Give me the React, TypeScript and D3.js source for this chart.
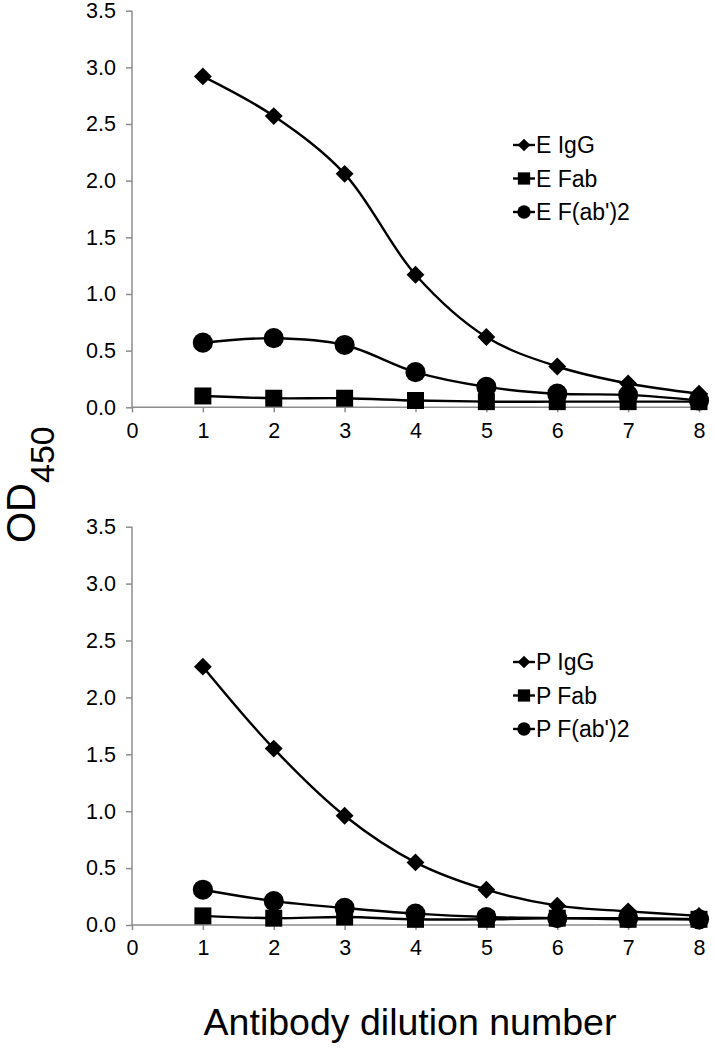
import React, { useEffect, useRef } from 'react';
import * as d3 from 'd3';

// dilution numbers on the x axis
const dilutions = [1, 2, 3, 4, 5, 6, 7, 8];
const xTicks = [0, 1, 2, 3, 4, 5, 6, 7, 8];
const yTicks = [0, 0.5, 1.0, 1.5, 2.0, 2.5, 3.0, 3.5];

// top panel (E)
const eIgG = [2.92, 2.57, 2.06, 1.17, 0.62, 0.36, 0.21, 0.12];
const eFab = [0.10, 0.08, 0.08, 0.06, 0.05, 0.05, 0.05, 0.05];
const eF2 = [0.57, 0.61, 0.55, 0.31, 0.18, 0.12, 0.11, 0.06];

// bottom panel (P)
const pIgG = [2.27, 1.55, 0.96, 0.55, 0.31, 0.17, 0.12, 0.08];
const pFab = [0.08, 0.06, 0.07, 0.05, 0.05, 0.06, 0.05, 0.05];
const pF2 = [0.31, 0.21, 0.15, 0.10, 0.07, 0.06, 0.06, 0.05];

const seriesTop = [
  { name: 'E IgG', values: eIgG, marker: 'diamond' },
  { name: 'E Fab', values: eFab, marker: 'square' },
  { name: "E F(ab')2", values: eF2, marker: 'circle' },
];
const seriesBottom = [
  { name: 'P IgG', values: pIgG, marker: 'diamond' },
  { name: 'P Fab', values: pFab, marker: 'square' },
  { name: "P F(ab')2", values: pF2, marker: 'circle' },
];

const FONT = "'Liberation Sans', Arial, sans-serif";
const AXIS_COLOR = '#8c8c8c';

type Series = { name: string; values: number[]; marker: string };

const markerPath = (kind: string, big: boolean) => {
  if (kind === 'diamond') {
    return d3.symbol(d3.symbolSquare, big ? 160 : 80)()!;
  }
  if (kind === 'square') {
    return d3.symbol(d3.symbolSquare, big ? 289 : 150)()!;
  }
  return d3.symbol(d3.symbolCircle, big ? 320 : 140)()!;
};

const drawPanel = (
  svg: d3.Selection<SVGSVGElement, unknown, null, undefined>,
  series: Series[],
  top: number,
  bottom: number,
  legendY: number
) => {
  const x = d3.scaleLinear().domain([0, 8]).range([132, 699]);
  const y = d3.scaleLinear().domain([0, 3.5]).range([bottom, top]);

  const g = svg.append('g');

  // y axis
  const yAxis = g
    .append('g')
    .attr('transform', `translate(${x(0)},0)`)
    .call(
      d3
        .axisLeft(y)
        .tickValues(yTicks)
        .tickSize(6)
        .tickPadding(10)
        .tickFormat(d3.format('.1f'))
    );

  // x axis
  const xAxis = g
    .append('g')
    .attr('transform', `translate(0,${y(0)})`)
    .call(
      d3
        .axisBottom(x)
        .tickValues(xTicks)
        .tickSize(5)
        .tickPadding(10)
        .tickFormat(d3.format('d'))
    );

  [yAxis, xAxis].forEach((ax) => {
    ax.select('.domain').attr('stroke', AXIS_COLOR).attr('stroke-width', 1.5);
    ax.selectAll('.tick line').attr('stroke', AXIS_COLOR).attr('stroke-width', 1.5);
    ax.selectAll('.tick text')
      .attr('fill', '#000')
      .style('font-family', FONT)
      .style('font-size', '21.5px');
  });
  // no outer tick nubs beyond the ends
  yAxis.select('.domain').attr('d', `M0,${top}V${bottom}`);
  xAxis.select('.domain').attr('d', `M${x(0)},0H${x(8)}`);

  const line = d3
    .line<number>()
    .x((_, i) => x(dilutions[i]))
    .y((d) => y(d))
    .curve(d3.curveCatmullRom.alpha(0.5));

  series.forEach((s) => {
    g.append('path')
      .datum(s.values)
      .attr('fill', 'none')
      .attr('stroke', '#000')
      .attr('stroke-width', 2.4)
      .attr('d', line);

    g.selectAll(null)
      .data(s.values)
      .enter()
      .append('path')
      .attr('d', markerPath(s.marker, true))
      .attr('fill', '#000')
      .attr(
        'transform',
        (d, i) =>
          `translate(${x(dilutions[i])},${y(d)})` + (s.marker === 'diamond' ? ' rotate(45)' : '')
      );
  });

  // legend
  const legend = g.append('g').attr('transform', `translate(513,${legendY})`);
  series.forEach((s, i) => {
    const row = legend.append('g').attr('transform', `translate(0,${i * 33.5})`);
    row
      .append('line')
      .attr('x1', 0)
      .attr('x2', 22)
      .attr('stroke', '#000')
      .attr('stroke-width', 2.4);
    row
      .append('path')
      .attr('d', markerPath(s.marker, false))
      .attr('fill', '#000')
      .attr('transform', `translate(11,0)` + (s.marker === 'diamond' ? ' rotate(45)' : ''));
    row
      .append('text')
      .attr('x', 23)
      .attr('dy', '0.36em')
      .style('font-family', FONT)
      .style('font-size', '23px')
      .text(s.name);
  });
};

const App: React.FC = () => {
  const svgRef = useRef<SVGSVGElement>(null);

  useEffect(() => {
    if (!svgRef.current) return;
    const svg = d3.select(svgRef.current);
    svg.selectAll('*').remove();

    drawPanel(svg, seriesTop, 10.7, 407.3, 145);
    drawPanel(svg, seriesBottom, 526.7, 925, 662);

    // y axis title OD450
    const yTitle = svg
      .append('text')
      .attr('transform', 'translate(35,543) rotate(-90)')
      .style('font-family', FONT)
      .style('font-size', '40px')
      .attr('fill', '#000');
    yTitle.append('tspan').text('OD');
    yTitle.append('tspan').attr('dy', 19).style('font-size', '34px').text('450');

    // x axis title
    svg
      .append('text')
      .attr('x', 410)
      .attr('y', 1035)
      .attr('text-anchor', 'middle')
      .style('font-family', FONT)
      .style('font-size', '37.5px')
      .attr('fill', '#000')
      .text('Antibody dilution number');
  }, []);

  return (
    <svg
      ref={svgRef}
      width={714}
      height={1050}
      style={{ position: 'absolute', left: 0, top: 0, background: '#fff' }}
    />
  );
};

export default App;
